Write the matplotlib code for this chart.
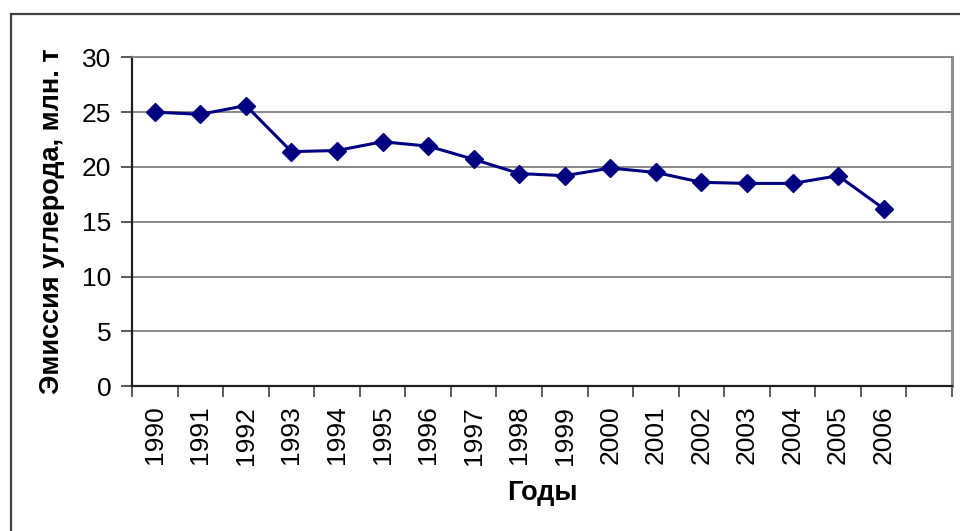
import matplotlib
matplotlib.use("Agg")
import matplotlib.pyplot as plt
from matplotlib.patches import Rectangle
import numpy as np

plt.rcParams['font.family'] = ['Liberation Sans', 'DejaVu Sans']

years = ['1990', '1991', '1992', '1993', '1994', '1995', '1996', '1997', '1998',
         '1999', '2000', '2001', '2002', '2003', '2004', '2005', '2006']
emission = [25.0, 24.8, 25.6, 21.4, 21.5, 22.3, 21.9, 20.7, 19.4,
            19.2, 19.9, 19.5, 18.6, 18.5, 18.5, 19.2, 16.2]
n_slots = 18  # one empty category slot after the last year
y_ticks = [0, 5, 10, 15, 20, 25, 30]

W, H = 960, 531
fig = plt.figure(figsize=(W / 100, H / 100), dpi=100)
fig.patch.set_facecolor('white')

# chart frame (continues past the right and bottom edges)
fig.patches.append(Rectangle((11 / W, -0.1), 1.2, 1 - 14 / H + 0.1,
                             transform=fig.transFigure, fill=False,
                             edgecolor='#404040', linewidth=1.6, zorder=0))

left, right = 132 / W, 952 / W
bottom, top = 1 - 386.3 / H, 1 - 57.3 / H
ax = fig.add_axes([left, bottom, right - left, top - bottom])

x = np.arange(len(years))
ax.plot(x, emission, color='#000080', linewidth=2.2, marker='D',
        markersize=9, markeredgecolor='#000080', markerfacecolor='#000080',
        zorder=3, clip_on=False)

ax.set_xlim(-0.5, n_slots - 0.5)
ax.set_ylim(0, 30)

# category boundaries carry tick marks, labels sit at category centres
ax.set_xticks(np.arange(n_slots + 1) - 0.5)
ax.set_xticklabels([])
ax.set_xticks(x, minor=True)
ax.set_xticklabels(years, minor=True, rotation=90, fontsize=19)
ax.tick_params(axis='x', which='major', length=8, width=1.2, color='#404040',
               direction='out')
ax.tick_params(axis='x', which='minor', length=0, pad=14)

ax.set_yticks(y_ticks)
ax.set_yticklabels([str(v) for v in y_ticks], fontsize=19)
ax.tick_params(axis='y', length=8, width=1.2, color='#404040', direction='out', pad=7)

ax.yaxis.grid(True, color='#808080', linewidth=1.3)
ax.set_axisbelow(True)

for s in ['left', 'bottom']:
    ax.spines[s].set_color('#202020')
    ax.spines[s].set_linewidth(1.6)
ax.spines['right'].set_color('#8c8c8c')
ax.spines['right'].set_linewidth(2.2)
ax.spines['top'].set_color('#808080')
ax.spines['top'].set_linewidth(1.3)

fig.text(542 / W, 1 - 493 / H, 'Годы', ha='center', va='center',
         fontsize=19.5, fontweight='bold')
fig.text(52 / W, 1 - 221 / H, 'Эмиссия углерода, млн. т', ha='center',
         va='center', rotation=90, fontsize=19.5, fontweight='bold')

fig.savefig('out.png', dpi=100, facecolor='white')
